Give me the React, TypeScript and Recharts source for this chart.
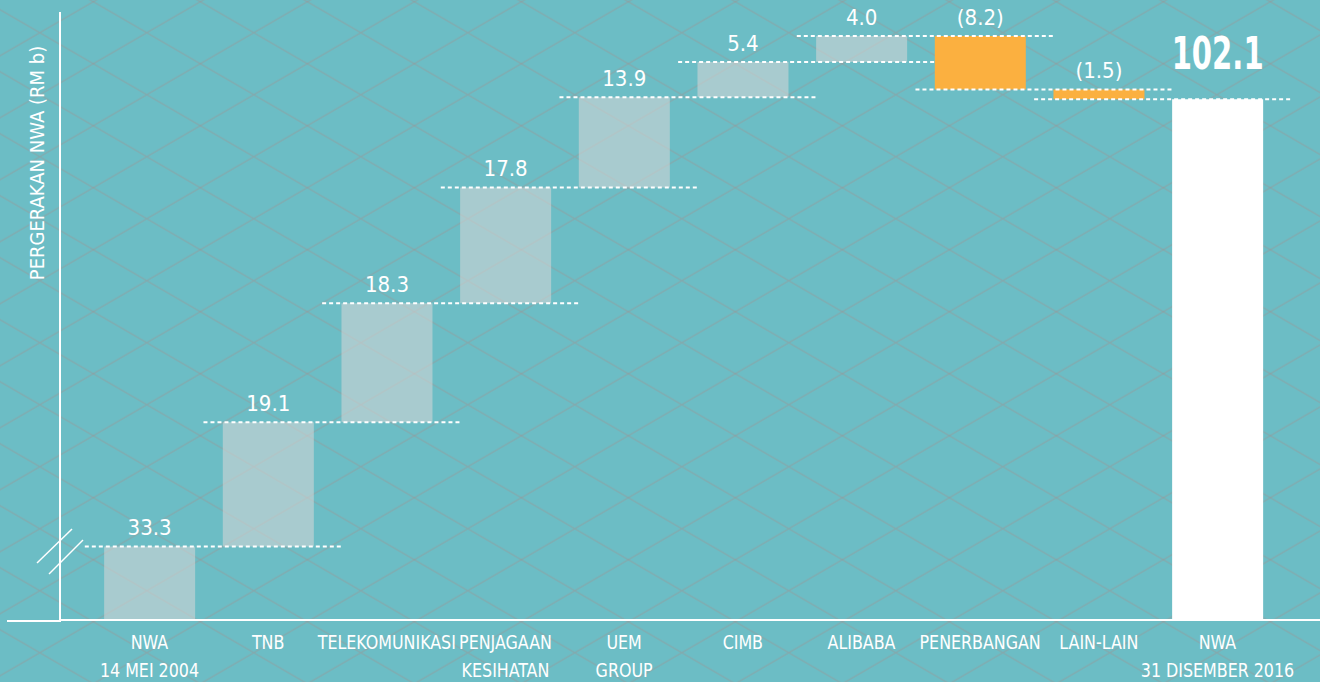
import React from "react";
import { BarChart, Bar, XAxis, YAxis, Cell, LabelList, ReferenceLine } from "recharts";

// NWA movement, RM b
const CATEGORIES = [
  "NWA\n14 MEI 2004",
  "TNB",
  "TELEKOMUNIKASI",
  "PENJAGAAN\nKESIHATAN",
  "UEM\nGROUP",
  "CIMB",
  "ALIBABA",
  "PENERBANGAN",
  "LAIN-LAIN",
  "NWA\n31 DISEMBER 2016",
];
const START_NWA = 33.3;
const CHANGES = [19.1, 18.3, 17.8, 13.9, 5.4, 4.0, -8.2, -1.5];
const END_NWA = 102.1;
const Y_DOMAIN: [number, number] = [22, 115.5]; // axis is broken below the first bar
const Y_LABEL = "PERGERAKAN NWA (RM b)";

const BG = "#6CBDC5";
const FONT = "'DejaVu Sans Condensed', 'DejaVu Sans', sans-serif";
const W = 1320;
const H = 682;

const fmt = (v: number) => (v < 0 ? `(${Math.abs(v).toFixed(1)})` : v.toFixed(1));

// waterfall rows: [low, high] ranges
const rows: any[] = [];
const levels: number[] = [];
let level = START_NWA;
rows.push({ idx: 0, range: [Y_DOMAIN[0], START_NWA], label: fmt(START_NWA), kind: "total" });
levels.push(level);
CHANGES.forEach((c, i) => {
  const next = level + c;
  rows.push({ idx: i + 1, range: [Math.min(level, next), Math.max(level, next)], label: fmt(c), kind: c < 0 ? "neg" : "pos" });
  level = next;
  levels.push(level);
});
rows.push({ idx: CATEGORIES.length - 1, range: [Y_DOMAIN[0], END_NWA], label: fmt(END_NWA), kind: "end" });

const fillFor = (kind: string) => (kind === "neg" ? "#FBB040" : kind === "end" ? "#FFFFFF" : "#D6D6D6");
const opacityFor = (kind: string) => (kind === "neg" || kind === "end" ? 1 : 0.57);

const CategoryTick = (props: any) => {
  const { x, y, payload } = props;
  const lines = CATEGORIES[payload.value].split("\n");
  return (
    <g>
      {lines.map((t, i) => (
        <text key={i} transform={`translate(${x}, ${y + 22 + i * 28}) scale(0.93, 1)`} textAnchor="middle"
          dominantBaseline="central" fill="#fff" fontSize={19} fontFamily={FONT}>{t}</text>
      ))}
    </g>
  );
};

const ValueLabel = (props: any) => {
  const { x, y, width, value, index } = props;
  const cx = x + width / 2;
  if (index === rows.length - 1) {
    return (
      <text x={cx} y={y - 46} textAnchor="middle" dominantBaseline="central" fill="#fff" fontSize={45}
        fontWeight={700} fontFamily={FONT} textLength={92} lengthAdjust="spacingAndGlyphs">{value}</text>
    );
  }
  return (
    <text x={cx} y={y - 19} textAnchor="middle" dominantBaseline="central" fill="#fff" fontSize={22}
      fontFamily={FONT}>{value}</text>
  );
};

const AxisTitle = (props: any) => {
  const { viewBox } = props;
  const cx = viewBox.x + viewBox.width - 23;
  const cy = viewBox.y + 151;
  return (
    <text x={cx} y={cy} transform={`rotate(-90, ${cx}, ${cy})`} textAnchor="middle" dominantBaseline="central"
      fill="#fff" fontSize={20} fontFamily={FONT}>{Y_LABEL}</text>
  );
};

export default function App() {
  return (
    <div style={{ position: "absolute", left: 0, top: 0, width: W, height: H, background: BG, overflow: "hidden" }}>
      <svg width={W} height={H} style={{ position: "absolute", left: 0, top: 0 }}>
        <defs>
          <pattern id="lattice" width={107} height={62} x={39.8} y={32.7} patternUnits="userSpaceOnUse">
            <line x1={0} y1={0} x2={107} y2={62} stroke="#979797" strokeOpacity={0.55} strokeWidth={1.2} />
            <line x1={0} y1={62} x2={107} y2={0} stroke="#979797" strokeOpacity={0.55} strokeWidth={1.2} />
          </pattern>
        </defs>
        <rect width={W} height={H} fill="url(#lattice)" />
        {/* x axis runs past the y axis, plus the axis break marks */}
        <line x1={7} y1={621} x2={61} y2={621} stroke="#fff" strokeWidth={2} />
        <line x1={37} y1={563} x2={72} y2={529} stroke="#fff" strokeWidth={1.5} />
        <line x1={49} y1={574} x2={83} y2={540} stroke="#fff" strokeWidth={1.5} />
      </svg>
      <div style={{ position: "absolute", left: 0, top: 0 }}>
        <BarChart width={W} height={H} data={rows} margin={{ top: 12, right: 0, left: 0, bottom: 0 }}>
          <XAxis type="number" dataKey="idx" domain={[-0.754, 9.864]} ticks={CATEGORIES.map((_, i) => i)}
            interval={0} tick={<CategoryTick />} tickLine={false} tickSize={0} tickMargin={0} height={62}
            axisLine={{ stroke: "#fff", strokeWidth: 2 }} allowDataOverflow />
          <YAxis domain={Y_DOMAIN} width={60} tick={false} tickLine={false} allowDataOverflow
            axisLine={{ stroke: "#fff", strokeWidth: 2 }} label={<AxisTitle />} />
          <Bar dataKey="range" barSize={91} isAnimationActive={false}>
            {rows.map((r, i) => (
              <Cell key={i} fill={fillFor(r.kind)} fillOpacity={opacityFor(r.kind)} />
            ))}
            <LabelList dataKey="label" content={<ValueLabel />} />
          </Bar>
          {levels.map((lv, i) => (
            <ReferenceLine key={i} segment={[{ x: i - 0.545, y: lv }, { x: i + 1.62, y: lv }]}
              stroke="#fff" strokeWidth={2} strokeDasharray="4 3" ifOverflow="visible" />
          ))}
        </BarChart>
      </div>
    </div>
  );
}
